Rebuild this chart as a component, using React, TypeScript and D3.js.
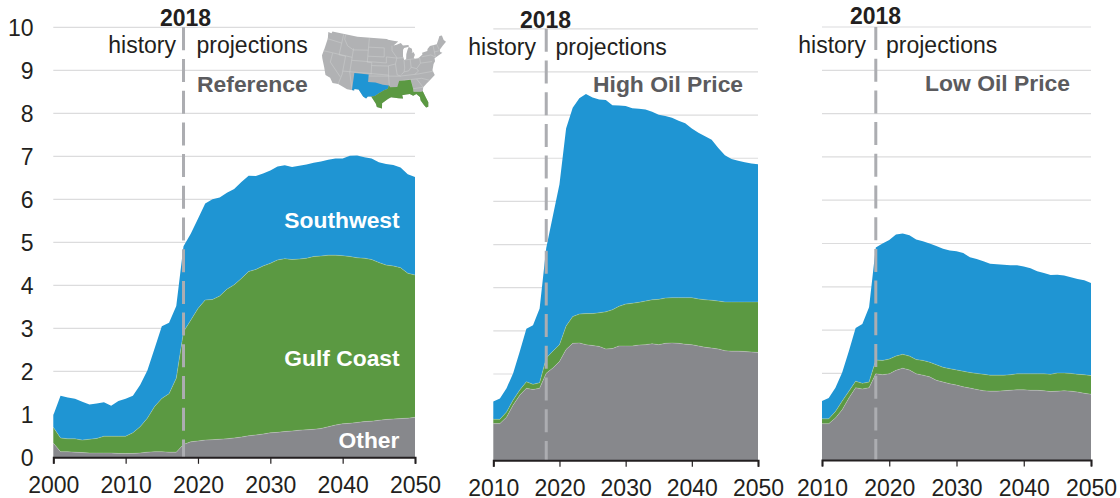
import React, { useEffect, useRef } from "react";
import * as d3 from "d3";

// million barrels per day, values are the top edge of each stacked band
const refYears = d3.range(2000, 2051);
const refTotal = [
  0.98, 1.43, 1.39, 1.36, 1.29, 1.23, 1.25, 1.28, 1.2, 1.31, 1.36, 1.43, 1.68, 2.02, 2.53, 3.05, 3.13, 3.52, 4.91,
  5.2, 5.55, 5.9, 6.0, 6.04, 6.15, 6.24, 6.4, 6.55, 6.54, 6.6, 6.67, 6.76, 6.79, 6.75, 6.78, 6.81, 6.85, 6.88, 6.92,
  6.95, 6.95, 7.01, 7.02, 6.98, 6.95, 6.86, 6.82, 6.8, 6.74, 6.58, 6.52,
];
const refGulf = [
  0.7, 0.45, 0.43, 0.43, 0.4, 0.42, 0.44, 0.49, 0.49, 0.49, 0.49, 0.57, 0.71, 0.91, 1.18, 1.37, 1.48, 1.84, 2.92,
  3.19, 3.46, 3.66, 3.67, 3.75, 3.91, 4.01, 4.16, 4.32, 4.37, 4.45, 4.51, 4.59, 4.62, 4.6, 4.61, 4.63, 4.67, 4.68,
  4.7, 4.7, 4.69, 4.67, 4.64, 4.63, 4.6, 4.53, 4.47, 4.45, 4.41, 4.28, 4.24,
];
const refOther = [
  0.33, 0.13, 0.13, 0.12, 0.11, 0.1, 0.1, 0.1, 0.1, 0.09, 0.09, 0.09, 0.1, 0.12, 0.13, 0.13, 0.12, 0.12, 0.3, 0.36,
  0.38, 0.4, 0.41, 0.42, 0.43, 0.45, 0.47, 0.5, 0.52, 0.54, 0.57, 0.58, 0.6, 0.61, 0.63, 0.64, 0.65, 0.67, 0.71,
  0.75, 0.78, 0.79, 0.81, 0.83, 0.84, 0.86, 0.88, 0.89, 0.9, 0.91, 0.93,
];

const sideYears = d3.range(2010, 2051);
const highTotal = [
  1.36, 1.43, 1.67, 2.02, 2.52, 3.05, 3.13, 3.52, 4.92, 5.66, 6.4, 7.69, 8.17, 8.39, 8.49, 8.41, 8.36, 8.35, 8.23,
  8.22, 8.21, 8.16, 8.15, 8.13, 8.08, 8.01, 7.98, 7.94, 7.87, 7.81, 7.69, 7.59, 7.51, 7.43, 7.24, 7.07, 6.98, 6.94,
  6.91, 6.88, 6.86,
];
const highGulf = [
  0.95, 0.95, 1.12, 1.4, 1.63, 1.82, 1.76, 1.8, 2.37, 2.53, 2.68, 3.11, 3.33, 3.39, 3.4, 3.4, 3.42, 3.44, 3.49,
  3.57, 3.62, 3.64, 3.66, 3.69, 3.72, 3.73, 3.76, 3.77, 3.77, 3.77, 3.77, 3.74, 3.72, 3.71, 3.69, 3.67, 3.67, 3.67,
  3.67, 3.67, 3.67,
];
const highOther = [
  0.85, 0.85, 1.0, 1.28, 1.51, 1.67, 1.64, 1.67, 2.02, 2.14, 2.29, 2.57, 2.71, 2.72, 2.68, 2.66, 2.64, 2.58, 2.59,
  2.65, 2.65, 2.65, 2.67, 2.68, 2.7, 2.68, 2.71, 2.72, 2.71, 2.69, 2.68, 2.65, 2.62, 2.6, 2.58, 2.54, 2.53, 2.53,
  2.52, 2.51, 2.5,
];
const lowTotal = [
  1.36, 1.43, 1.67, 2.02, 2.52, 3.05, 3.14, 3.53, 4.91, 5.0, 5.08, 5.21, 5.23, 5.19, 5.09, 5.05, 5.0, 4.94, 4.88,
  4.84, 4.82, 4.78, 4.68, 4.64, 4.59, 4.53, 4.52, 4.51, 4.5, 4.5, 4.47, 4.43, 4.36, 4.32, 4.27, 4.28, 4.26, 4.22,
  4.18, 4.15, 4.09,
];
const lowGulf = [
  0.95, 0.95, 1.12, 1.36, 1.59, 1.82, 1.77, 1.8, 2.31, 2.3, 2.33, 2.4, 2.44, 2.4, 2.32, 2.3, 2.26, 2.2, 2.14, 2.11,
  2.08, 2.05, 2.02, 2.0, 1.98, 1.96, 1.96, 1.96, 1.97, 1.99, 1.99, 1.99, 1.99, 1.99, 1.98, 2.01, 2.01, 2.0, 1.98,
  1.97, 1.95,
];
const lowOther = [
  0.84, 0.84, 0.97, 1.16, 1.43, 1.67, 1.64, 1.67, 1.99, 1.97, 1.99, 2.07, 2.12, 2.08, 1.99, 1.96, 1.92, 1.84, 1.8,
  1.76, 1.73, 1.69, 1.66, 1.63, 1.6, 1.59, 1.59, 1.6, 1.61, 1.62, 1.62, 1.61, 1.61, 1.6, 1.58, 1.59, 1.6, 1.59,
  1.57, 1.54, 1.52,
];

const yTicks = d3.range(0, 11);
const refXTicks = [2000, 2010, 2020, 2030, 2040, 2050];
const sideXTicks = [2010, 2020, 2030, 2040, 2050];

const BLUE = "#1f95d3";
const GREEN = "#5b9942";
const GRAY = "#87888c";
const FONT = "'Liberation Sans', Arial, sans-serif";

// the three panels were pasted separately in the source, each sits a little differently
const panels = [
  {
    years: refYears, total: refTotal, gulf: refGulf, other: refOther, ticks: refXTicks,
    left: 53.3, right: 415, yRange: [457.3, 27.3], title: "Reference", titleX: 197, titleY: 92,
    markY: 26, markX: 185.5, histX: 176, projX: 196.5, labelY: 52.5,
  },
  {
    years: sideYears, total: highTotal, gulf: highGulf, other: highOther, ticks: sideXTicks,
    left: 493.3, right: 758, yRange: [460.3, 28.8], title: "High Oil Price", titleX: 593, titleY: 92,
    markY: 28, markX: 545.5, histX: 536, projX: 555.5, labelY: 55,
  },
  {
    years: sideYears, total: lowTotal, gulf: lowGulf, other: lowOther, ticks: sideXTicks,
    left: 822, right: 1091, yRange: [460, 27], title: "Low Oil Price", titleX: 925, titleY: 91,
    markY: 24, markX: 875.5, histX: 866, projX: 886, labelY: 52.5,
  },
];

// locator map, rough lon/lat outlines
const usOutline = [
  [-124.7, 48.4], [-123, 48.3], [-122.8, 49], [-110, 49], [-95.2, 49], [-94.6, 48.7], [-92, 48.3], [-89.6, 48],
  [-92, 46.7], [-90.5, 46.9], [-88.4, 47.4], [-87.5, 46.5], [-84.8, 46.5], [-84.7, 45.9], [-87, 45.7], [-87.6, 45.1],
  [-87.9, 43], [-87.5, 41.7], [-86.6, 41.9], [-86.3, 43.5], [-85.5, 45], [-84.8, 45.8], [-83.4, 45.1], [-83.4, 44],
  [-83.9, 43.7], [-82.9, 44], [-82.4, 43], [-83.1, 42.1], [-82.7, 41.6], [-81, 41.8], [-79, 42.7], [-79, 43.3],
  [-76.5, 43.5], [-76.2, 44.2], [-74.8, 45], [-71.5, 45], [-70.3, 46.2], [-69.2, 47.4], [-68, 47.3], [-67.8, 45.7],
  [-67, 44.9], [-69, 44], [-70.7, 43], [-70.9, 42.2], [-70, 41.8], [-71.5, 41.4], [-74, 40.7], [-74.1, 39.7],
  [-75, 38.9], [-75.9, 37.2], [-76, 36.9], [-75.5, 35.3], [-77.9, 33.9], [-79.3, 33.1], [-81, 32], [-81.4, 30.7],
  [-80.6, 28.4], [-80, 26.8], [-80.3, 25.3], [-81.1, 25.2], [-81.8, 26.2], [-82.7, 27.8], [-82.8, 29], [-84, 30.1],
  [-85.3, 29.7], [-86.5, 30.4], [-88, 30.3], [-89.5, 30.2], [-89.2, 29.1], [-91, 29.2], [-93.8, 29.7], [-95, 29.1],
  [-97.2, 27.7], [-97.2, 25.9], [-99.1, 26.4], [-99.5, 27.5], [-101.4, 29.8], [-102.7, 29.7], [-103.3, 29],
  [-104.5, 29.6], [-106.5, 31.8], [-108.2, 31.8], [-108.2, 31.3], [-111, 31.3], [-114.8, 32.5], [-117.1, 32.5],
  [-118.5, 34], [-120.6, 34.5], [-122, 36.9], [-123.8, 39.5], [-124.3, 40.4], [-124.1, 43], [-124, 46.3], [-124.7, 48.4],
];
const southwestOutline = [
  [-109.05, 37], [-103, 37], [-103, 34.5], [-100, 34.5], [-97, 33.8], [-94.6, 33.6], [-95, 32.5], [-96.5, 32], [-98.5, 31],
  [-100, 30], [-101.4, 29.8], [-102.7, 29.7], [-103.3, 29], [-104.5, 29.6], [-106.5, 31.8], [-108.2, 31.8],
  [-108.2, 31.3], [-109.05, 31.3], [-109.05, 37],
];
const gulfOutline = [
  [-94.6, 33.6], [-94, 33], [-91.2, 33], [-90.3, 35], [-88.2, 35], [-85.6, 35], [-85, 32], [-85, 31], [-82, 30.6],
  [-81.4, 30.7], [-80.6, 28.4], [-80, 26.8], [-80.3, 25.3], [-81.1, 25.2], [-81.8, 26.2], [-82.7, 27.8], [-82.8, 29],
  [-84, 30.1], [-85.3, 29.7], [-86.5, 30.4], [-88, 30.3], [-89.5, 30.2], [-89.2, 29.1], [-91, 29.2], [-93.8, 29.7],
  [-95, 29.1], [-97.2, 27.7], [-97.2, 25.9], [-99.1, 26.4], [-99.5, 27.5], [-101.4, 29.8], [-100, 30], [-98.5, 31],
  [-96.5, 32], [-95, 32.5], [-94.6, 33.6],
];
const stateLines = [
  [[-117, 49], [-117, 42], [-114, 42], [-114, 36], [-114.8, 32.5]],
  [[-124.2, 46.2], [-117, 46]],
  [[-124.2, 42], [-111, 42]],
  [[-120, 42], [-120, 39], [-114.6, 35]],
  [[-116, 49], [-116, 47.5], [-114, 45.5], [-111, 44.5], [-104, 45]],
  [[-111, 45], [-111, 37], [-109, 31.3]],
  [[-114, 37], [-94.6, 37]],
  [[-104, 49], [-104, 41], [-102, 41], [-102, 37]],
  [[-111, 41], [-95.5, 41], [-95.5, 43], [-90.5, 42.5], [-87.8, 42.5]],
  [[-104, 46], [-96.5, 46], [-96.5, 43]],
  [[-104, 43], [-96.5, 43]],
  [[-102, 40], [-95, 40], [-91.5, 40.6], [-91, 37], [-89.5, 36.5]],
  [[-94.6, 40], [-94.6, 36.5], [-94.4, 33.6]],
  [[-103, 36.5], [-90, 36.5], [-82, 36.6], [-75.8, 36.6]],
  [[-92.8, 46.7], [-92.8, 45], [-90.7, 42.6], [-91.5, 40.6]],
  [[-87.6, 41.7], [-87.6, 39], [-88, 37.8], [-89.2, 37]],
  [[-84.8, 41.7], [-84.8, 39.1], [-86, 38], [-88, 37.8]],
  [[-87, 41.7], [-80.5, 41.7], [-80.5, 40], [-75.4, 39.8]],
  [[-84.8, 39.1], [-82.5, 38.4], [-81.9, 37.5], [-83.7, 36.6]],
  [[-80.5, 40], [-82.5, 38.4]],
  [[-79.5, 42], [-75.3, 42], [-73.5, 41]],
  [[-73.3, 45], [-73.5, 41]],
  [[-71.5, 45], [-71, 43]],
  [[-73.5, 42.7], [-70.9, 42.7]],
  [[-90.3, 35], [-81, 35], [-78, 33.9]],
  [[-85, 32], [-81, 32]],
  [[-83.1, 35], [-81, 32]],
  [[-88.2, 35], [-88.4, 30.3]],
  [[-85.6, 35], [-85, 31]],
  [[-91.2, 33], [-91.3, 31], [-89.7, 31], [-89.5, 30.2]],
  [[-94, 33], [-93.7, 29.8]],
  [[-82, 30.6], [-85, 31]],
  [[-87.6, 31], [-85, 31]],
];

function LocatorMap() {
  const us = { type: "Polygon", coordinates: [usOutline] };
  const projection = d3.geoAlbers().fitExtent([[322, 29], [446, 111]], us as any);
  const path = d3.geoPath(projection);
  return (
    <g>
      <path d={path(us as any) || ""} fill="#b1b2b4" />
      <path
        d={path({ type: "MultiLineString", coordinates: stateLines } as any) || ""}
        fill="none"
        stroke="#cfd0d1"
        strokeWidth={0.5}
      />
      <path d={path({ type: "Polygon", coordinates: [southwestOutline] } as any) || ""} fill={BLUE} />
      <path d={path({ type: "Polygon", coordinates: [gulfOutline] } as any) || ""} fill={GREEN} />
    </g>
  );
}

function Panel({ p }: { p: (typeof panels)[number] }) {
  const axisRef = useRef<SVGGElement>(null);
  const x = d3.scaleLinear().domain([p.years[0], 2050]).range([p.left, p.right]);
  const y = d3.scaleLinear().domain([0, 10]).range(p.yRange);

  useEffect(() => {
    const g = d3.select(axisRef.current);
    g.call(
      d3.axisBottom(x).tickValues(p.ticks).tickSize(6.5).tickPadding(13).tickFormat(d3.format("d")) as any
    );
    g.selectAll("text")
      .attr("font-family", FONT)
      .attr("font-size", 23)
      .attr("fill", "#231f20");
    g.selectAll("line").attr("stroke", "#231f20").attr("stroke-width", 1.2);
    g.select(".domain").attr("stroke", "#231f20").attr("stroke-width", 2);
  }, []);

  const band = (low: number[] | null, high: number[]) =>
    d3
      .area<number>()
      .x((d) => x(d))
      .y0((_, i) => y(low ? low[i] : 0))
      .y1((_, i) => y(high[i]))(p.years) || "";

  const topLine = (vals: number[]) =>
    d3
      .line<number>()
      .x((d) => x(d))
      .y((_, i) => y(vals[i]))(p.years) || "";

  const x2018 = x(2018);

  return (
    <g>
      {yTicks.map((t) => (
        <line key={t} x1={p.left} x2={p.right} y1={y(t)} y2={y(t)} stroke="#dcdcdd" strokeWidth={1.2} />
      ))}
      <path d={band(p.gulf, p.total)} fill={BLUE} />
      <path d={band(p.other, p.gulf)} fill={GREEN} />
      <path d={band(null, p.other)} fill={GRAY} />
      <path d={topLine(p.gulf)} fill="none" stroke="#fff" strokeOpacity={0.35} strokeWidth={0.6} />
      <path d={topLine(p.other)} fill="none" stroke="#fff" strokeOpacity={0.35} strokeWidth={0.6} />
      <line
        x1={x2018}
        x2={x2018}
        y1={y(10)}
        y2={y(0)}
        stroke="#acadb1"
        strokeWidth={3}
        strokeDasharray="23 8.7"
      />
      <g ref={axisRef} transform={`translate(0,${y(0)})`} />
      <g fontFamily={FONT} fontSize={23}>
        <text x={p.markX} y={p.markY} textAnchor="middle" fontWeight="bold" fill="#231f20">
          2018
        </text>
        <text x={p.histX} y={p.labelY} textAnchor="end" fill="#231f20">
          history
        </text>
        <text x={p.projX} y={p.labelY} fill="#231f20">
          projections
        </text>
        <text x={p.titleX} y={p.titleY} fontWeight="bold" fontSize={22.9} fill="#5b5b5e">
          {p.title}
        </text>
      </g>
    </g>
  );
}

export default function App() {
  const yLabels = d3.scaleLinear().domain([0, 10]).range(panels[0].yRange);
  return (
    <svg width={1120} height={498} style={{ position: "absolute", left: 0, top: 0 }}>
      {panels.map((p) => (
        <Panel key={p.title} p={p} />
      ))}
      <g fontFamily={FONT} fontSize={23} fill="#231f20" textAnchor="end">
        {yTicks.map((t) => (
          <text key={t} x={33.5} y={yLabels(t)} dy="0.36em">
            {t}
          </text>
        ))}
      </g>
      <LocatorMap />
      <g fontFamily={FONT} fontSize={22.8} fontWeight="bold" fill="#fff" textAnchor="middle">
        <text x={342} y={228}>Southwest</text>
        <text x={342} y={366}>Gulf Coast</text>
        <text x={369} y={448}>Other</text>
      </g>
    </svg>
  );
}
